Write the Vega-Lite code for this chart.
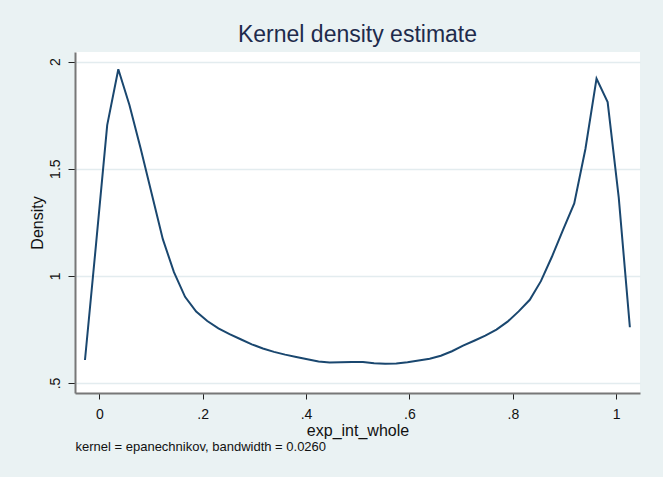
{
  "$schema": "https://vega.github.io/schema/vega-lite/v6.json",
  "width": 565,
  "height": 341,
  "autosize": {"type": "none"},
  "padding": {"left": 75, "top": 52, "right": 23, "bottom": 84},
  "background": "#EAF2F3",
  "view": {"fill": "white", "stroke": null},
  "config": {"font": "Liberation Sans"},
  "title": {
    "text": "Kernel density estimate",
    "fontSize": 23,
    "font": "Liberation Sans",
    "fontWeight": "normal",
    "color": "#1E2B4C",
    "anchor": "middle",
    "frame": "group",
    "baseline": "alphabetic",
    "offset": 8,
    "dy": 21
  },
  "data": {
    "values": [
      {"x": -0.0277, "density": 0.607},
      {"x": -0.0062, "density": 1.15},
      {"x": 0.0153, "density": 1.703},
      {"x": 0.0368, "density": 1.964},
      {"x": 0.0583, "density": 1.797},
      {"x": 0.0799, "density": 1.595},
      {"x": 0.1014, "density": 1.383},
      {"x": 0.1229, "density": 1.171},
      {"x": 0.1444, "density": 1.017},
      {"x": 0.1659, "density": 0.902},
      {"x": 0.1874, "density": 0.833},
      {"x": 0.2089, "density": 0.789},
      {"x": 0.2304, "density": 0.755},
      {"x": 0.252, "density": 0.728},
      {"x": 0.2735, "density": 0.704},
      {"x": 0.295, "density": 0.68},
      {"x": 0.3165, "density": 0.661},
      {"x": 0.338, "density": 0.645},
      {"x": 0.3595, "density": 0.632},
      {"x": 0.381, "density": 0.621},
      {"x": 0.4025, "density": 0.611},
      {"x": 0.4241, "density": 0.6},
      {"x": 0.4456, "density": 0.595},
      {"x": 0.4671, "density": 0.597},
      {"x": 0.4886, "density": 0.598},
      {"x": 0.5101, "density": 0.598},
      {"x": 0.5316, "density": 0.592},
      {"x": 0.5531, "density": 0.59},
      {"x": 0.5746, "density": 0.591},
      {"x": 0.5962, "density": 0.597},
      {"x": 0.6177, "density": 0.605},
      {"x": 0.6392, "density": 0.613},
      {"x": 0.6607, "density": 0.627},
      {"x": 0.6822, "density": 0.648},
      {"x": 0.7037, "density": 0.674},
      {"x": 0.7252, "density": 0.697},
      {"x": 0.7467, "density": 0.721},
      {"x": 0.7683, "density": 0.749},
      {"x": 0.7898, "density": 0.786},
      {"x": 0.8113, "density": 0.834},
      {"x": 0.8328, "density": 0.888},
      {"x": 0.8543, "density": 0.975},
      {"x": 0.8758, "density": 1.09},
      {"x": 0.8973, "density": 1.215},
      {"x": 0.9188, "density": 1.338},
      {"x": 0.9404, "density": 1.592},
      {"x": 0.9619, "density": 1.92},
      {"x": 0.9834, "density": 1.811},
      {"x": 1.0049, "density": 1.365},
      {"x": 1.0264, "density": 0.76}
    ]
  },
  "layer": [
    {
      "mark": {"type": "line", "color": "#1A476F", "strokeWidth": 2},
      "encoding": {
        "x": {
          "field": "x",
          "type": "quantitative",
          "scale": {"domain": [-0.047, 1.046], "nice": false, "zero": false},
          "axis": {
            "orient": "bottom",
            "values": [0, 0.2, 0.4, 0.6, 0.8, 1],
            "labelExpr": "slice(format(datum.value, '~g'), datum.value > 0 && datum.value < 1 ? 1 : 0)",
            "title": "exp_int_whole",
            "grid": false,
            "tickSize": 6,
            "tickColor": "#222222",
            "domainColor": "#777777",
            "domainWidth": 2,
            "labelFontSize": 14,
            "labelColor": "#111111",
            "labelPadding": 8,
            "labelFlush": false,
            "titleFontSize": 16,
            "titleFontWeight": "normal",
            "titleColor": "#111111",
            "titlePadding": 1
          }
        },
        "y": {
          "field": "density",
          "type": "quantitative",
          "scale": {"domain": [0.453, 2.0445], "nice": false, "zero": false},
          "axis": {
            "values": [0.5, 1, 1.5, 2],
            "labelExpr": "slice(format(datum.value, '~g'), datum.value > 0 && datum.value < 1 ? 1 : 0)",
            "labelAngle": -90,
            "labelAlign": "center",
            "labelBaseline": "bottom",
            "title": "Density",
            "grid": true,
            "gridColor": "#E3ECEF",
            "gridWidth": 1.5,
            "tickSize": 7,
            "tickColor": "#222222",
            "domainColor": "#777777",
            "domainWidth": 2,
            "labelFontSize": 14,
            "labelColor": "#111111",
            "labelPadding": 6,
            "labelFlush": false,
            "titleFontSize": 16,
            "titleFontWeight": "normal",
            "titleColor": "#111111",
            "titlePadding": 3
          }
        }
      }
    },
    {
      "mark": {"type": "line", "strokeOpacity": 0},
      "encoding": {
        "x": {
          "field": "x",
          "type": "quantitative",
          "scale": {"domain": [-0.047, 1.046], "nice": false, "zero": false},
          "axis": {
            "orient": "bottom",
            "title": "kernel = epanechnikov, bandwidth = 0.0260",
            "domain": false,
            "ticks": false,
            "labels": false,
            "grid": false,
            "titleAnchor": "start",
            "titleFontSize": 13,
            "titleFontWeight": "normal",
            "titleColor": "#111111",
            "titlePadding": 47
          }
        },
        "y": {"field": "density", "type": "quantitative"}
      }
    }
  ],
  "resolve": {"axis": {"x": "independent"}}
}
